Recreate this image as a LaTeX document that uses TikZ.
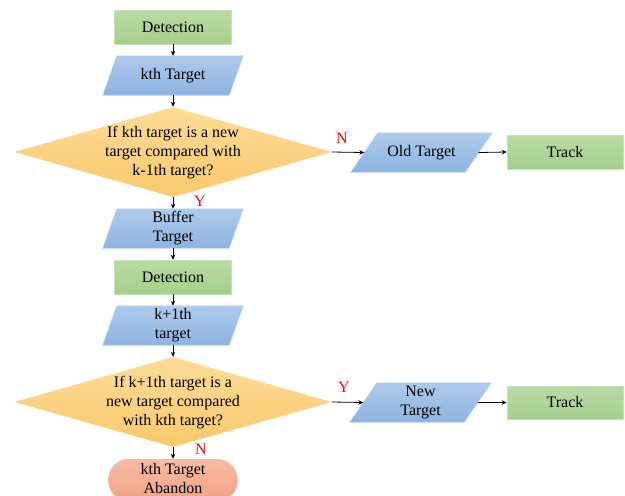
\documentclass[tikz,border=0pt]{standalone}
\usepackage{fontspec}
\setmainfont{Liberation Serif}
\usetikzlibrary{shapes.geometric,arrows.meta,backgrounds}

\definecolor{greenT}{HTML}{B9DBA5}
\definecolor{greenB}{HTML}{A5CF8B}
\definecolor{greenE}{HTML}{C8E2B8}
\definecolor{blueT}{HTML}{AECBEB}
\definecolor{blueB}{HTML}{8DB3E1}
\definecolor{blueE}{HTML}{B8D1EE}
\definecolor{yellowT}{HTML}{FDDC98}
\definecolor{yellowB}{HTML}{F9C96C}
\definecolor{salmonT}{HTML}{F6BDA6}
\definecolor{salmonB}{HTML}{F1A283}

\tikzset{
  txt/.style={font=\fontsize{16}{19}\selectfont, align=center, text=black},
  procbox/.style={txt, rectangle, inner sep=0pt, minimum width=117pt,
    minimum height=34pt, top color=greenT, bottom color=greenB,
    draw=greenE, line width=0.6pt},
  iobox/.style={txt, rectangle, inner sep=0pt, minimum height=39pt},
  iofill/.style={top color=blueT, bottom color=blueB, draw=blueE, line width=0.6pt},
  decbox/.style={diamond, inner sep=0pt, minimum width=317pt,
    minimum height=90pt, top color=yellowT, bottom color=yellowB},
  endbox/.style={txt, rectangle, rounded corners=20pt, inner sep=0pt,
    minimum width=129pt, minimum height=42pt, top color=salmonT,
    bottom color=salmonB},
  arr/.style={-{Stealth[length=5pt,width=4.5pt]}, line width=0.8pt, black},
  yn/.style={font=\fontsize{16}{19}\selectfont, text=red, inner sep=0pt},
}

% slanted input/output box drawn behind a named node
\newcommand\slantfill[2]{%
  \begin{pgfonlayer}{background}
    \path[iofill] ([xshift=#2]#1.north west) -- ([xshift=#2]#1.north east)
      -- ([xshift=-#2]#1.south east) -- ([xshift=-#2]#1.south west) -- cycle;
  \end{pgfonlayer}}

\begin{document}
\begin{tikzpicture}[x=1pt, y=-1pt]
  \useasboundingbox (0,0) rectangle (625,496);
  \begin{pgfonlayer}{background}
    \fill[white] (0,0) rectangle (625,496);
  \end{pgfonlayer}
  \clip (0,0) rectangle (625,496);

  % main column
  \node[procbox] (det1) at (173,27) {Detection};
  \node[iobox, minimum width=126pt] (kth) at (173,75.5) {kth Target};
  \slantfill{kth}{7pt}
  \node[decbox] (dia1) at (173,152) {};
  \node[txt] (dia1txt) at (173,153) {If kth target is a new\\target compared with\\k-1th target?};
  \node[iobox, minimum width=126pt] (buf) at (173,228.5) {Buffer\\Target};
  \slantfill{buf}{7pt}
  \node[procbox] (det2) at (173,277) {Detection};
  \node[iobox, minimum width=126pt] (k1) at (173,325.5) {k+1th\\target};
  \slantfill{k1}{7pt}
  \node[decbox] (dia2) at (173,402) {};
  \node[txt] (dia2txt) at (173,403) {If k+1th target is a\\new target compared\\with kth target?};
  \node[endbox] (aband) at (173,480) {};
  \node[txt] (abandtxt) at (173,479) {kth Target\\Abandon};

  % right branches
  \node[iobox, minimum width=114pt] (old) at (421.5,152.5) {Old Target};
  \slantfill{old}{13.5pt}
  \node[procbox, minimum width=116pt] (track1) at (565,152) {Track};
  \node[iobox, minimum width=114pt] (new) at (420.5,402.5) {New\\Target};
  \slantfill{new}{13.5pt}
  \node[procbox, minimum width=116pt, minimum height=33pt] (track2) at (565,402.5) {Track};

  % connectors
  \draw[arr] (det1) -- (kth);
  \draw[arr] (kth) -- (dia1.north);
  \draw[arr] (dia1.south) -- (buf);
  \draw[arr] (buf) -- (det2);
  \draw[arr] (det2) -- (k1);
  \draw[arr] (k1) -- (dia2.north);
  \draw[arr] (dia2.south) -- (aband);
  \draw[arr] (dia1.east) -- (old.west);
  \draw[arr] (old.east) -- (track1.west);
  \draw[arr] (dia2.east) -- (new.west);
  \draw[arr] (new.east) -- (track2.west);

  % branch labels
  \node[yn] (n1) at (342,138) {N};
  \node[yn] (y1) at (200,201) {Y};
  \node[yn] (y2) at (344,387) {Y};
  \node[yn] (n2) at (201,449) {N};
\end{tikzpicture}
\end{document}
